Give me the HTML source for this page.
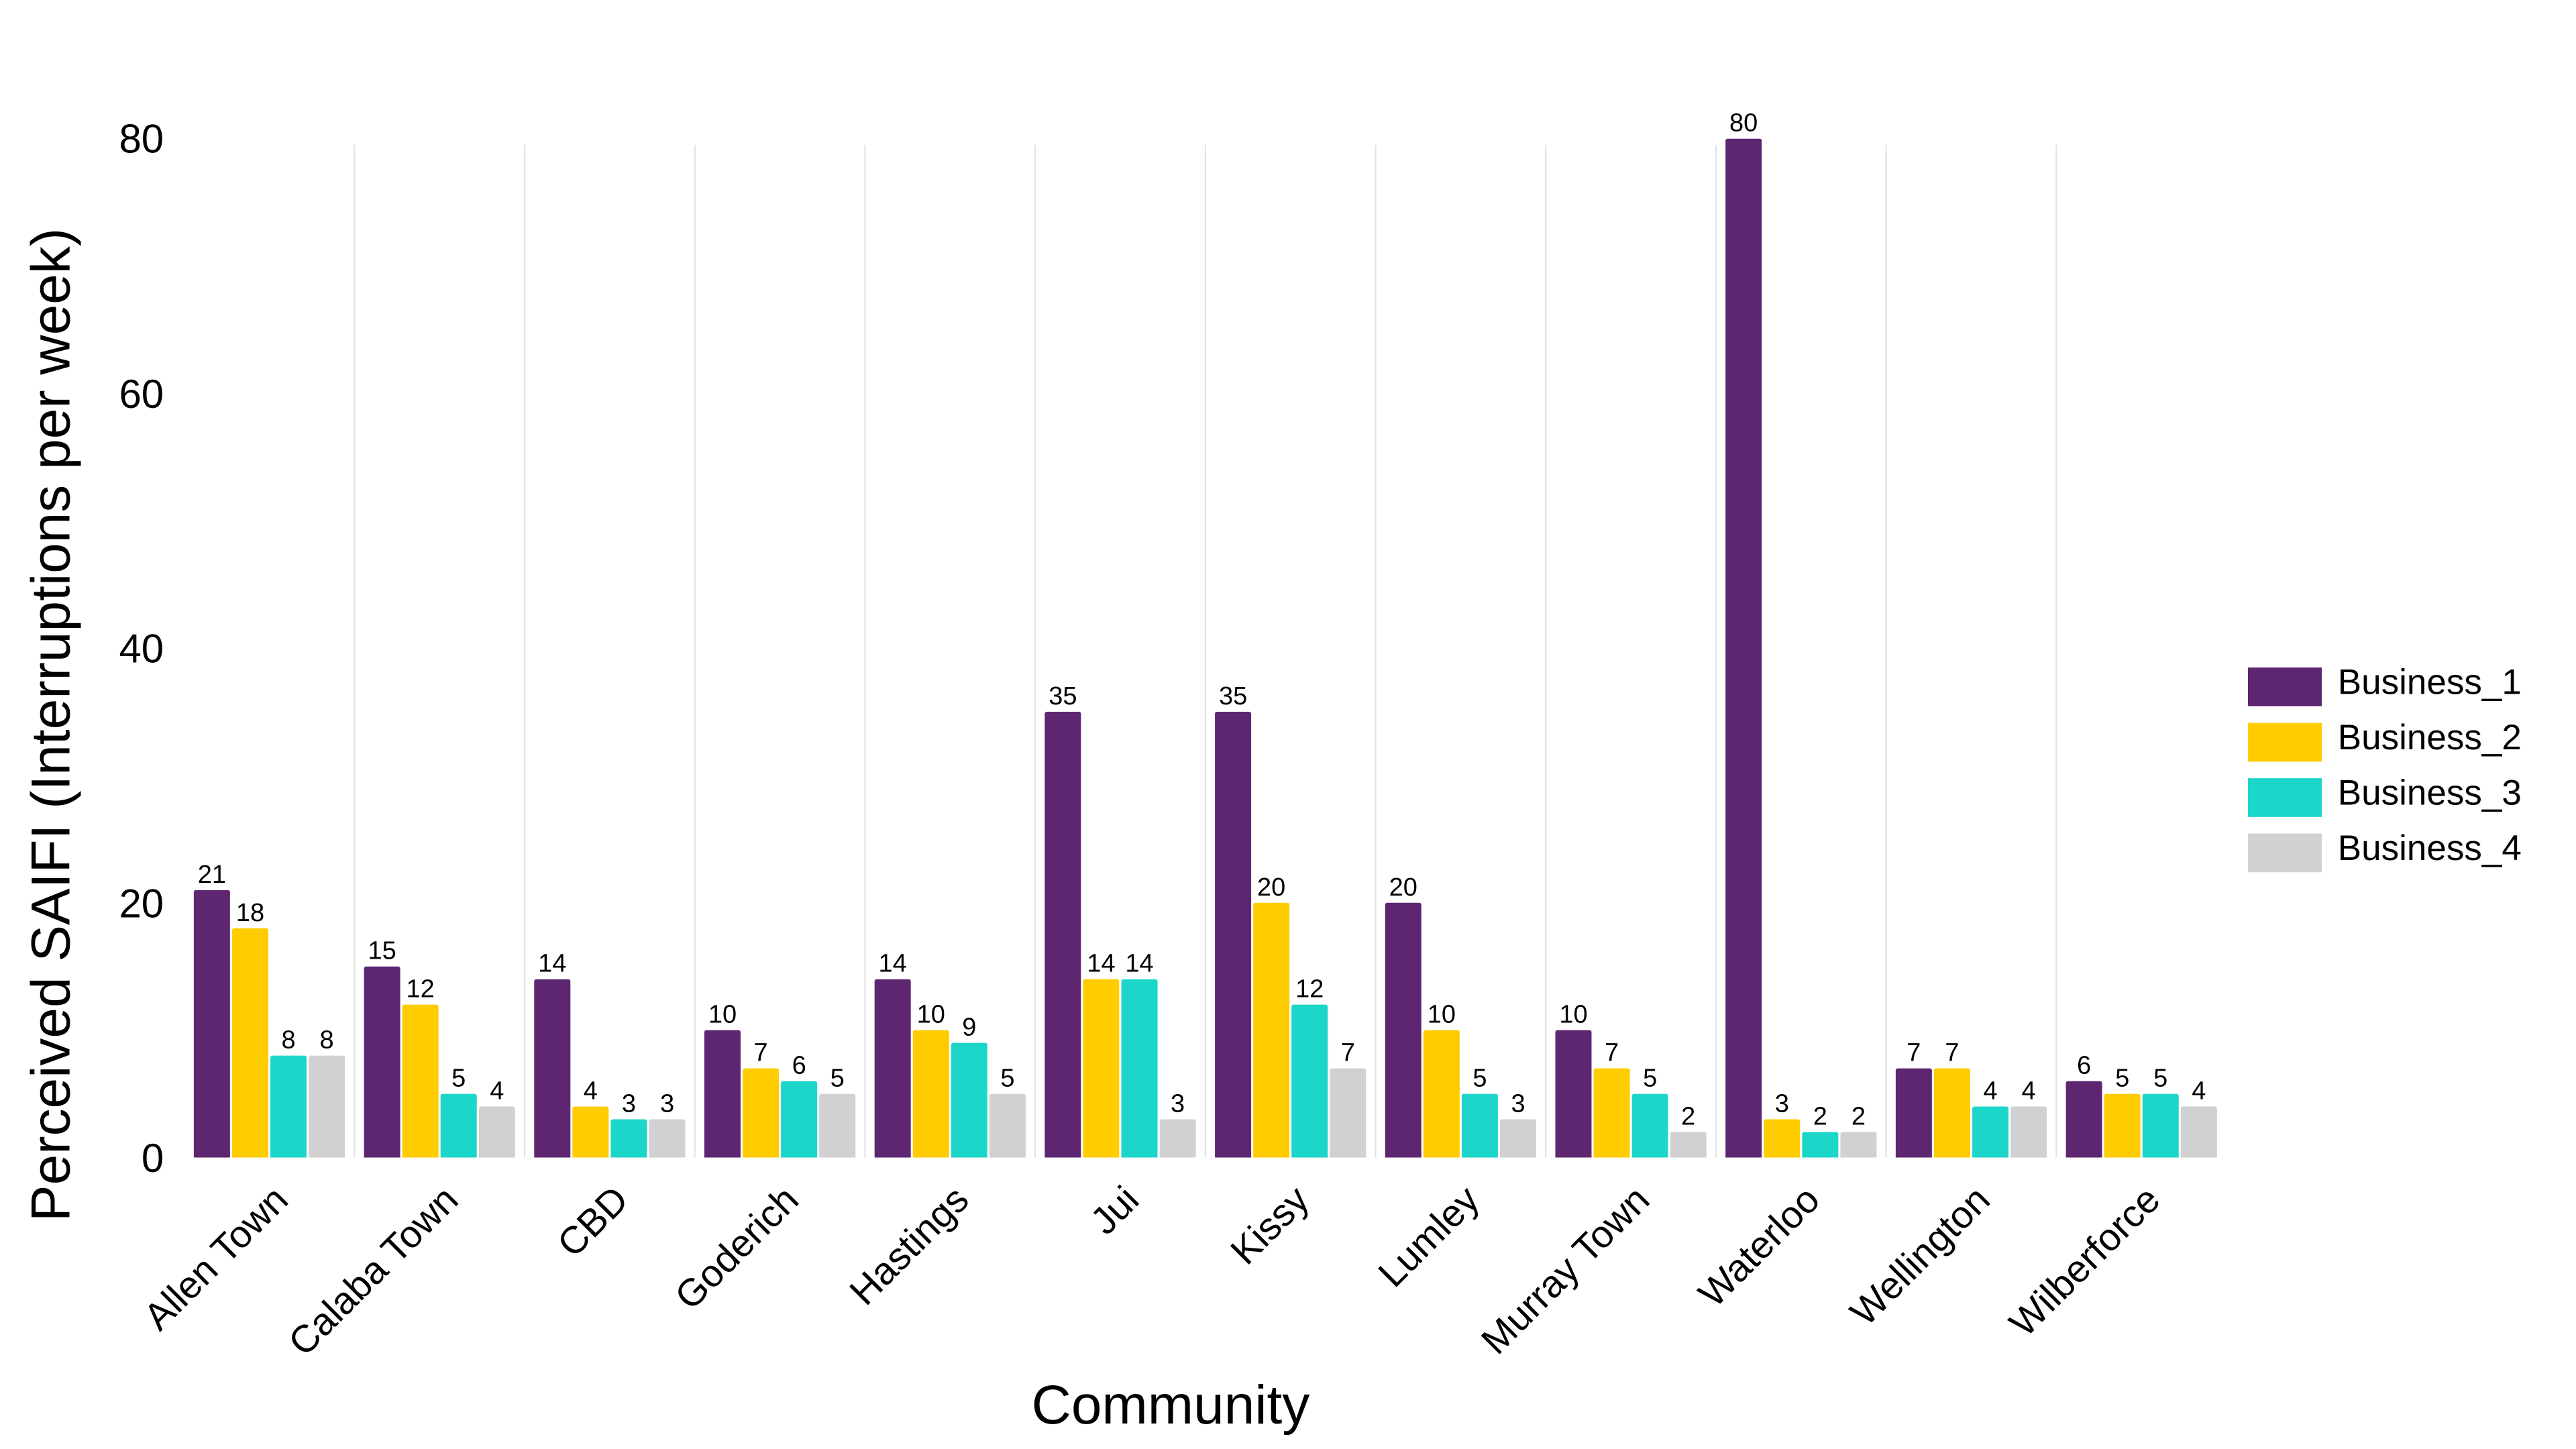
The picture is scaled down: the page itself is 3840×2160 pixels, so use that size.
<!DOCTYPE html>
<html>
<head>
<meta charset="utf-8">
<style>
html,body{margin:0;padding:0;background:#fff;}
svg{display:block;}
text{font-family:"Liberation Sans",Arial,sans-serif;fill:#000;}
</style>
</head>
<body>
<svg width="3840" height="2160" viewBox="0 0 3840 2160" xmlns="http://www.w3.org/2000/svg">
<defs>
<clipPath id="pc"><rect x="0" y="0" width="3840" height="1725.5"/></clipPath>
</defs>
<rect width="3840" height="2160" fill="#fff"/>
<!-- grid lines -->
<g stroke="#E3E3E3" stroke-width="2.2">
<line x1="528.35" y1="216" x2="528.35" y2="1725.5"/>
<line x1="782.05" y1="216" x2="782.05" y2="1725.5"/>
<line x1="1035.75" y1="216" x2="1035.75" y2="1725.5"/>
<line x1="1289.45" y1="216" x2="1289.45" y2="1725.5"/>
<line x1="1543.15" y1="216" x2="1543.15" y2="1725.5"/>
<line x1="1796.85" y1="216" x2="1796.85" y2="1725.5"/>
<line x1="2050.55" y1="216" x2="2050.55" y2="1725.5"/>
<line x1="2304.25" y1="216" x2="2304.25" y2="1725.5"/>
<line x1="2557.95" y1="216" x2="2557.95" y2="1725.5"/>
<line x1="2811.65" y1="216" x2="2811.65" y2="1725.5"/>
<line x1="3065.35" y1="216" x2="3065.35" y2="1725.5"/>
</g>
<!-- bars -->
<g clip-path="url(#pc)">
<g fill="#5E2670">
<rect x="288.88" y="1326.82" width="54" height="404" rx="3"/>
<rect x="542.58" y="1440.73" width="54" height="290" rx="3"/>
<rect x="796.28" y="1459.71" width="54" height="271" rx="3"/>
<rect x="1049.98" y="1535.65" width="54" height="195" rx="3"/>
<rect x="1303.68" y="1459.71" width="54" height="271" rx="3"/>
<rect x="1557.38" y="1061.03" width="54" height="670" rx="3"/>
<rect x="1811.08" y="1061.03" width="54" height="670" rx="3"/>
<rect x="2064.78" y="1345.8" width="54" height="385" rx="3"/>
<rect x="2318.48" y="1535.65" width="54" height="195" rx="3"/>
<rect x="2572.18" y="206.7" width="54" height="1524" rx="3"/>
<rect x="2825.88" y="1592.6" width="54" height="138" rx="3"/>
<rect x="3079.58" y="1611.59" width="54" height="119" rx="3"/>
</g>
<g fill="#FFCC00">
<rect x="345.96" y="1383.77" width="54" height="347" rx="3"/>
<rect x="599.66" y="1497.68" width="54" height="233" rx="3"/>
<rect x="853.36" y="1649.56" width="54" height="81" rx="3"/>
<rect x="1107.06" y="1592.6" width="54" height="138" rx="3"/>
<rect x="1360.76" y="1535.65" width="54" height="195" rx="3"/>
<rect x="1614.46" y="1459.71" width="54" height="271" rx="3"/>
<rect x="1868.16" y="1345.8" width="54" height="385" rx="3"/>
<rect x="2121.86" y="1535.65" width="54" height="195" rx="3"/>
<rect x="2375.56" y="1592.6" width="54" height="138" rx="3"/>
<rect x="2629.26" y="1668.54" width="54" height="62" rx="3"/>
<rect x="2882.96" y="1592.6" width="54" height="138" rx="3"/>
<rect x="3136.66" y="1630.57" width="54" height="100" rx="3"/>
</g>
<g fill="#1DD6CA">
<rect x="403.04" y="1573.62" width="54" height="157" rx="3"/>
<rect x="656.74" y="1630.57" width="54" height="100" rx="3"/>
<rect x="910.44" y="1668.54" width="54" height="62" rx="3"/>
<rect x="1164.14" y="1611.59" width="54" height="119" rx="3"/>
<rect x="1417.84" y="1554.64" width="54" height="176" rx="3"/>
<rect x="1671.54" y="1459.71" width="54" height="271" rx="3"/>
<rect x="1925.24" y="1497.68" width="54" height="233" rx="3"/>
<rect x="2178.94" y="1630.57" width="54" height="100" rx="3"/>
<rect x="2432.64" y="1630.57" width="54" height="100" rx="3"/>
<rect x="2686.34" y="1687.53" width="54" height="43" rx="3"/>
<rect x="2940.04" y="1649.56" width="54" height="81" rx="3"/>
<rect x="3193.74" y="1630.57" width="54" height="100" rx="3"/>
</g>
<g fill="#D1D1D1">
<rect x="460.12" y="1573.62" width="54" height="157" rx="3"/>
<rect x="713.82" y="1649.56" width="54" height="81" rx="3"/>
<rect x="967.52" y="1668.54" width="54" height="62" rx="3"/>
<rect x="1221.22" y="1630.57" width="54" height="100" rx="3"/>
<rect x="1474.92" y="1630.57" width="54" height="100" rx="3"/>
<rect x="1728.62" y="1668.54" width="54" height="62" rx="3"/>
<rect x="1982.32" y="1592.6" width="54" height="138" rx="3"/>
<rect x="2236.02" y="1668.54" width="54" height="62" rx="3"/>
<rect x="2489.72" y="1687.53" width="54" height="43" rx="3"/>
<rect x="2743.42" y="1687.53" width="54" height="43" rx="3"/>
<rect x="2997.12" y="1649.56" width="54" height="81" rx="3"/>
<rect x="3250.82" y="1649.56" width="54" height="81" rx="3"/>
</g>
</g>
<!-- value labels -->
<g font-size="38" text-anchor="middle">
<text x="315.88" y="1315.82">21</text>
<text x="372.96" y="1372.77">18</text>
<text x="430.04" y="1562.62">8</text>
<text x="487.12" y="1562.62">8</text>
<text x="569.58" y="1429.73">15</text>
<text x="626.66" y="1486.68">12</text>
<text x="683.74" y="1619.57">5</text>
<text x="740.82" y="1638.56">4</text>
<text x="823.28" y="1448.71">14</text>
<text x="880.36" y="1638.56">4</text>
<text x="937.44" y="1657.54">3</text>
<text x="994.52" y="1657.54">3</text>
<text x="1076.98" y="1524.65">10</text>
<text x="1134.06" y="1581.6">7</text>
<text x="1191.14" y="1600.59">6</text>
<text x="1248.22" y="1619.57">5</text>
<text x="1330.68" y="1448.71">14</text>
<text x="1387.76" y="1524.65">10</text>
<text x="1444.84" y="1543.64">9</text>
<text x="1501.92" y="1619.57">5</text>
<text x="1584.38" y="1050.03">35</text>
<text x="1641.46" y="1448.71">14</text>
<text x="1698.54" y="1448.71">14</text>
<text x="1755.62" y="1657.54">3</text>
<text x="1838.08" y="1050.03">35</text>
<text x="1895.16" y="1334.8">20</text>
<text x="1952.24" y="1486.68">12</text>
<text x="2009.32" y="1581.6">7</text>
<text x="2091.78" y="1334.8">20</text>
<text x="2148.86" y="1524.65">10</text>
<text x="2205.94" y="1619.57">5</text>
<text x="2263.02" y="1657.54">3</text>
<text x="2345.48" y="1524.65">10</text>
<text x="2402.56" y="1581.6">7</text>
<text x="2459.64" y="1619.57">5</text>
<text x="2516.72" y="1676.53">2</text>
<text x="2599.18" y="195.7">80</text>
<text x="2656.26" y="1657.54">3</text>
<text x="2713.34" y="1676.53">2</text>
<text x="2770.42" y="1676.53">2</text>
<text x="2852.88" y="1581.6">7</text>
<text x="2909.96" y="1581.6">7</text>
<text x="2967.04" y="1638.56">4</text>
<text x="3024.12" y="1638.56">4</text>
<text x="3106.58" y="1600.59">6</text>
<text x="3163.66" y="1619.57">5</text>
<text x="3220.74" y="1619.57">5</text>
<text x="3277.82" y="1638.56">4</text>
</g>
<!-- y tick labels -->
<g font-size="60" text-anchor="end">
<text x="244.2" y="1747">0</text>
<text x="244.2" y="1367.3">20</text>
<text x="244.2" y="987.6">40</text>
<text x="244.2" y="607.9">60</text>
<text x="244.2" y="227.5">80</text>
</g>
<!-- x tick labels -->
<g font-size="57" text-anchor="end">
<text transform="translate(432.5,1792) rotate(-45)">Allen Town</text>
<text transform="translate(686.2,1792) rotate(-45)">Calaba Town</text>
<text transform="translate(939.9,1792) rotate(-45)">CBD</text>
<text transform="translate(1193.6,1792) rotate(-45)">Goderich</text>
<text transform="translate(1447.3,1792) rotate(-45)">Hastings</text>
<text transform="translate(1701,1792) rotate(-45)">Jui</text>
<text transform="translate(1954.7,1792) rotate(-45)">Kissy</text>
<text transform="translate(2208.4,1792) rotate(-45)">Lumley</text>
<text transform="translate(2462.1,1792) rotate(-45)">Murray Town</text>
<text transform="translate(2715.8,1792) rotate(-45)">Waterloo</text>
<text transform="translate(2969.5,1792) rotate(-45)">Wellington</text>
<text transform="translate(3223.2,1792) rotate(-45)">Wilberforce</text>
</g>
<!-- axis titles -->
<text transform="translate(103.3,1080.5) rotate(-90)" font-size="82" text-anchor="middle">Perceived SAIFI (Interruptions per week)</text>
<text x="1745" y="2122" font-size="82" text-anchor="middle">Community</text>
<!-- legend -->
<rect x="3351" y="995" width="110" height="57.7" fill="#5E2670"/>
<rect x="3351" y="1077.6" width="110" height="57.7" fill="#FFCC00"/>
<rect x="3351" y="1160.1" width="110" height="57.7" fill="#1DD6CA"/>
<rect x="3351" y="1242.5" width="110" height="57.7" fill="#D1D1D1"/>
<g font-size="53">
<text x="3484.8" y="1034.3">Business_1</text>
<text x="3484.8" y="1116.9">Business_2</text>
<text x="3484.8" y="1199.4">Business_3</text>
<text x="3484.8" y="1281.8">Business_4</text>
</g>
</svg>
</body>
</html>
